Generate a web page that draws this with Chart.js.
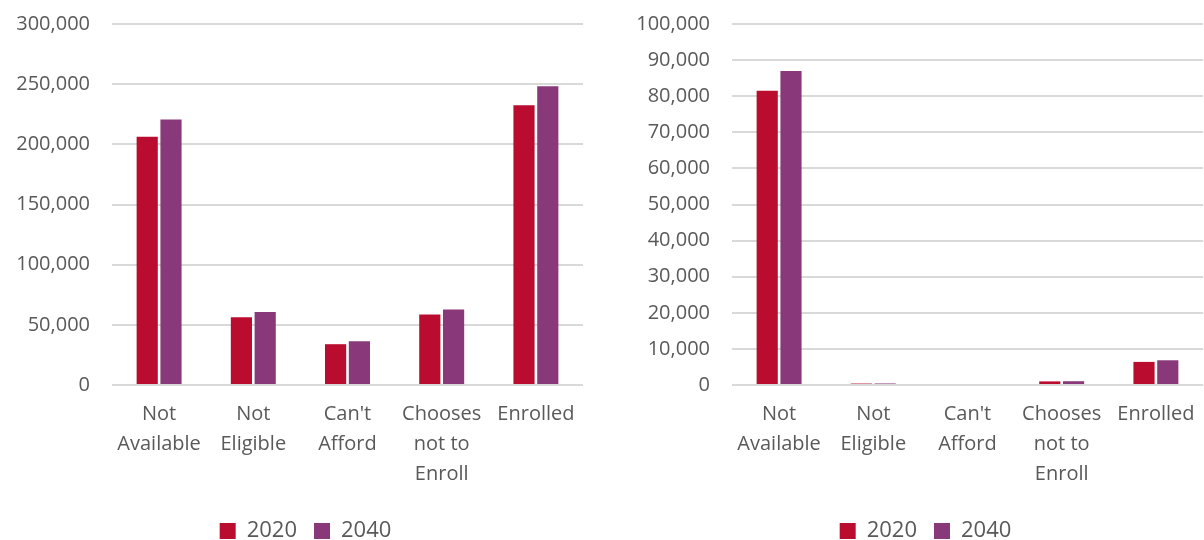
<!DOCTYPE html>
<html>
<head>
<meta charset="utf-8">
<script src="https://cdn.jsdelivr.net/npm/chart.js@4/dist/chart.umd.min.js"></script>
<style>
  html, body { margin: 0; padding: 0; background: #fff; overflow: hidden; }
  .box { position: absolute; top: 0; width: 584px; height: 540px; }
  #boxTotal { left: 0; }
  #boxRural { left: 620px; }
</style>
</head>
<body>
<div class="box" id="boxTotal"><canvas id="totalChart"></canvas></div>
<div class="box" id="boxRural"><canvas id="ruralChart"></canvas></div>
<script>
const categories = [
  ['Not', 'Available'],
  ['Not', 'Eligible'],
  ["Can't", 'Afford'],
  ['Chooses', 'not to', 'Enroll'],
  'Enrolled'
];
const years = ['2020', '2040'];

// left chart
const total2020 = [206400, 56400, 33900, 58600, 232500];
const total2040 = [220600, 60600, 36400, 62800, 248300];
const totalTicks = { max: 300000, step: 50000 };

// right chart
const rural2020 = [81500, 400, 0, 1000, 6400];
const rural2040 = [87000, 420, 0, 1050, 6850];
const ruralTicks = { max: 100000, step: 10000 };

const colors = ['#BA0C2F', '#89387A'];
const textColor = '#595959';
const fontFamily = '"Open Sans", "Noto Sans", sans-serif';

// nudge the legend a little right of the canvas centre
const legendShift = {
  id: 'legendShift',
  afterLayout(chart) {
    if (chart.legend) {
      chart.legend.left += 14;
      chart.legend.right += 14;
    }
  }
};

const makeChart = (id, series, ticks) => {
  const ctx = document.getElementById(id).getContext('2d');
  return new Chart(ctx, {
    type: 'bar',
    data: {
      labels: categories,
      datasets: series.map((data, i) => ({
        label: years[i],
        data: data,
        backgroundColor: colors[i],
        categoryPercentage: 0.505,
        barPercentage: 0.89
      }))
    },
    options: {
      responsive: true,
      maintainAspectRatio: false,
      animation: false,
      layout: { padding: { top: 24, right: 1, left: 0, bottom: -12 } },
      plugins: {
        tooltip: { enabled: false },
        legend: {
          position: 'bottom',
          labels: {
            color: textColor,
            font: { family: fontFamily, size: 22 },
            boxWidth: 16,
            boxHeight: 16,
            padding: 17
          }
        }
      },
      scales: {
        x: {
          grid: { display: false, drawTicks: false },
          border: { display: false },
          // labels fit inside the category, no side padding needed
          afterFit: (scale) => { scale.paddingLeft = 0; scale.paddingRight = 0; },
          ticks: {
            color: textColor,
            font: { family: fontFamily, size: 20, lineHeight: '30px' },
            padding: 14,
            maxRotation: 0,
            autoSkip: false
          }
        },
        y: {
          min: 0,
          max: ticks.max,
          afterFit: (scale) => {
            scale.width = 112;
            scale.paddingTop = 0;
            scale.paddingBottom = 0;
          },
          grid: { color: '#d9d9d9', lineWidth: 2, drawTicks: false },
          border: { display: false },
          ticks: {
            stepSize: ticks.step,
            color: textColor,
            font: { family: fontFamily, size: 20 },
            padding: 22,
            callback: (v) => v.toLocaleString('en-US')
          }
        }
      }
    },
    plugins: [legendShift]
  });
};

makeChart('totalChart', [total2020, total2040], totalTicks);
makeChart('ruralChart', [rural2020, rural2040], ruralTicks);
</script>
</body>
</html>
